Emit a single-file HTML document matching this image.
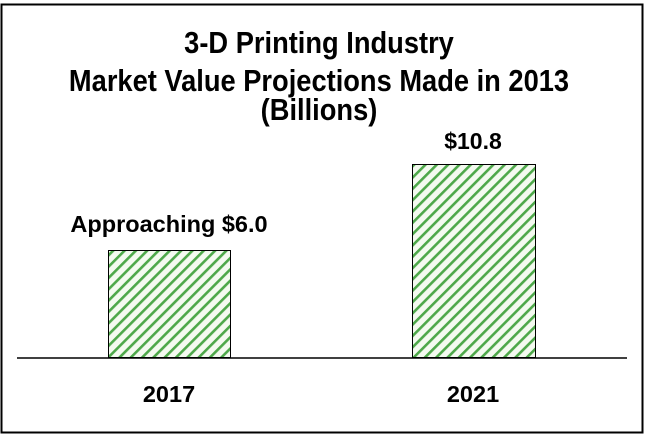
<!DOCTYPE html>
<html><head><style>
body{margin:0;background:#fff;}
svg{display:block;}
text{font-family:"Liberation Sans",Arial,sans-serif;font-weight:bold;fill:#000;}
</style></head><body>
<svg width="649" height="436" viewBox="0 0 649 436" xmlns="http://www.w3.org/2000/svg">
<defs>
<pattern id="h" patternUnits="userSpaceOnUse" width="8" height="8" patternTransform="rotate(45)">
<rect width="8" height="8" fill="#f4faf0"/>
<rect x="0" y="0" width="2.6" height="8" fill="#4ea84a"/>
</pattern>
</defs>
<rect x="1.5" y="4.5" width="641" height="428" fill="#fff" stroke="#000" stroke-width="2"/>
<g transform="translate(319,0) scale(0.88,1)" text-anchor="middle" font-size="31">
<text x="0" y="53">3-D Printing Industry</text>
<text x="0" y="91">Market Value Projections Made in 2013</text>
<text x="0" y="120">(Billions)</text>
</g>
<rect x="108.5" y="250.5" width="122" height="107" fill="url(#h)" stroke="#000" stroke-width="1"/>
<rect x="412.5" y="164.5" width="123" height="193" fill="url(#h)" stroke="#000" stroke-width="1"/>
<line x1="17" y1="358" x2="627" y2="358" stroke="#000" stroke-width="1.5"/>
<text x="169" y="232" font-size="23.5" text-anchor="middle">Approaching $6.0</text>
<text x="473" y="149" font-size="23" text-anchor="middle">$10.8</text>
<text x="169" y="402" font-size="23.5" text-anchor="middle">2017</text>
<text x="473" y="402" font-size="23.5" text-anchor="middle">2021</text>
</svg>
</body></html>
